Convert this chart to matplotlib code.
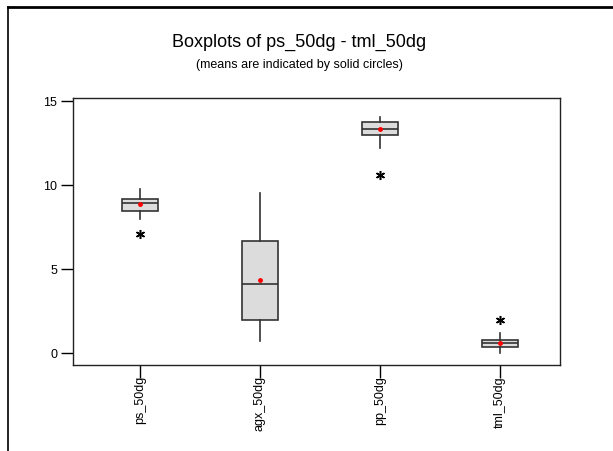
import matplotlib.pyplot as plt
from matplotlib.lines import Line2D

plt.rcParams['font.family'] = ['Liberation Sans', 'DejaVu Sans']

# summary values
labels = ["ps_50dg", "agx_50dg", "pp_50dg", "tml_50dg"]
q1 = [8.49, 1.98, 13.01, 0.37]
med = [8.96, 4.11, 13.33, 0.59]
q3 = [9.18, 6.70, 13.79, 0.77]
whislo = [7.98, 0.75, 12.20, 0.0]
whishi = [9.78, 9.56, 14.08, 1.23]
means = [8.87, 4.36, 13.35, 0.60]
fliers = [[7.08], [], [10.61], [1.98]]

stats = []
for i in range(len(labels)):
    stats.append(dict(label=labels[i], q1=q1[i], med=med[i], q3=q3[i],
                      whislo=whislo[i], whishi=whishi[i], mean=means[i],
                      fliers=fliers[i]))

fig = plt.figure(figsize=(6.13, 4.51), dpi=100)
ax = fig.add_axes([0.1186, 0.1907, 0.7949, 0.5931])

edge = "#333333"
ax.bxp(stats, positions=[1, 2, 3, 4], widths=0.305, patch_artist=True,
       showmeans=True, showcaps=False,
       boxprops=dict(facecolor="#dcdcdc", edgecolor=edge, linewidth=1.2),
       medianprops=dict(color=edge, linewidth=1.2),
       whiskerprops=dict(color=edge, linewidth=1.2),
       meanprops=dict(marker="o", markerfacecolor="red", markeredgecolor="red",
                      markersize=2.5),
       flierprops=dict(marker=(6, 2, 0), markeredgecolor="black",
                       markersize=6.5, markeredgewidth=1.1))

ax.set_xlim(0.44, 4.5)
ax.set_ylim(-0.7, 15.23)
ax.set_yticks([0, 5, 10, 15])
ax.set_xticks([1, 2, 3, 4])
ax.set_xticklabels(labels, rotation=90)
ax.tick_params(direction="out", length=9, width=1, labelsize=9)
ax.tick_params(axis="x", pad=-1)
ax.tick_params(axis="y", pad=2)
for s in ax.spines.values():
    s.set_linewidth(1)
    s.set_color("#222222")

fig.text(0.488, 0.907, "Boxplots of ps_50dg - tml_50dg", ha="center", va="center",
         fontsize=13)
fig.text(0.488, 0.855, "(means are indicated by solid circles)", ha="center",
         va="center", fontsize=9)

# page border on top and left
fig.add_artist(Line2D([0.013, 1.0], [0.9845, 0.9845], color="black", linewidth=2,
                      transform=fig.transFigure))
fig.add_artist(Line2D([0.013, 0.013], [0.0, 0.9845], color="black", linewidth=1.2,
                      transform=fig.transFigure))

fig.savefig("out.png", dpi=100)
